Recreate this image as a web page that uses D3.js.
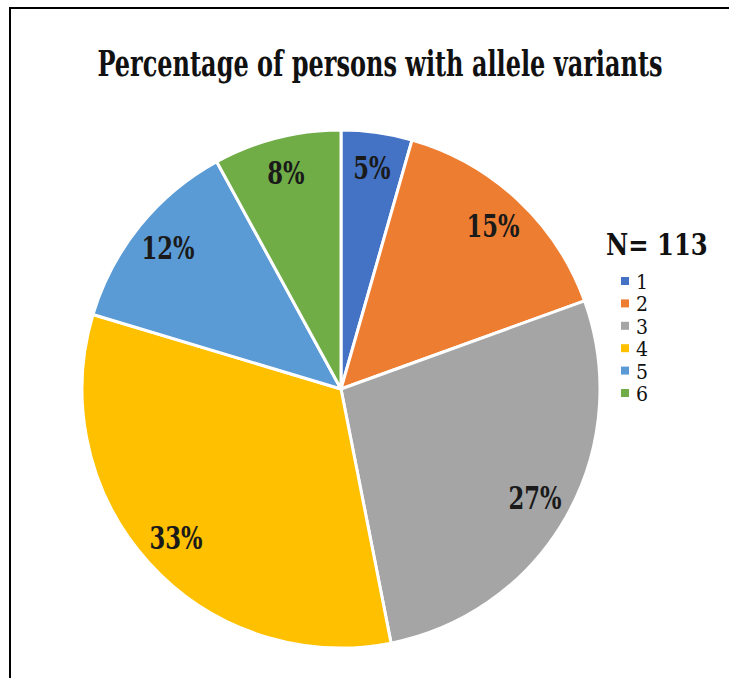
<!DOCTYPE html>
<html>
<head>
<meta charset="utf-8">
<script src="https://cdn.jsdelivr.net/npm/d3@7"></script>
<style>
  html, body { margin: 0; padding: 0; background: #fff; }
  svg { display: block; }
  svg text { font-family: 'DejaVu Serif Condensed', 'DejaVu Serif', serif; }
</style>
</head>
<body>
<div id="chart"></div>
<script>
'use strict';

// ── Data ───────────────────────────────────────────────────────────────────
const alleles  = ['1', '2', '3', '4', '5', '6'];
const persons  = [5, 17, 31, 37, 14, 9];          // counts, N = 113
const pctText  = ['5%', '15%', '27%', '33%', '12%', '8%'];
const colors   = ['#4472c4', '#ed7d31', '#a5a5a5', '#ffc000', '#5b9bd5', '#70ad47'];
const title    = 'Percentage of persons with allele variants';
const nLabel   = 'N= 113';

const W = 729, H = 678;
const cx = 341, cy = 389, R = 259;

const svg = d3.select('#chart').append('svg')
  .attr('width', W).attr('height', H);

// frame
svg.append('rect')
  .attr('x', 10).attr('y', 8)
  .attr('width', W + 20).attr('height', H + 20)
  .attr('fill', 'none').attr('stroke', '#000').attr('stroke-width', 2);

// title (the reference font is tall and narrow)
svg.append('text')
  .attr('transform', 'translate(380,76) scale(0.92,1.2)')
  .attr('text-anchor', 'middle')
  .attr('font-weight', 'bold')
  .attr('font-size', '29px')
  .attr('fill', '#111')
  .text(title);

// ── Pie ────────────────────────────────────────────────────────────────────
const rows = alleles.map((a, i) => ({ allele: a, value: persons[i], label: pctText[i], color: colors[i] }));

const pie = d3.pie().value(d => d.value).sort(null);
const arc = d3.arc().innerRadius(0).outerRadius(R);
const labelArc = d3.arc().innerRadius(R * 0.86).outerRadius(R * 0.86);

const g = svg.append('g').attr('transform', `translate(${cx},${cy})`);

g.selectAll('path')
  .data(pie(rows))
  .join('path')
  .attr('d', arc)
  .attr('fill', d => d.data.color)
  .attr('stroke', '#fff')
  .attr('stroke-width', 3)
  .attr('stroke-linejoin', 'round');

g.selectAll('.pct')
  .data(pie(rows))
  .join('text')
  .attr('class', 'pct')
  .attr('transform', d => `translate(${labelArc.centroid(d)}) scale(0.9,1.1)`)
  .attr('text-anchor', 'middle')
  .attr('dominant-baseline', 'central')
  .attr('font-weight', 'bold')
  .attr('font-size', '28px')
  .attr('fill', '#1a1a1a')
  .text(d => d.data.label);

// ── Legend ─────────────────────────────────────────────────────────────────
svg.append('text')
  .attr('transform', 'translate(606,255) scale(1,1.1)')
  .attr('font-weight', 'bold')
  .attr('font-size', '27px')
  .attr('fill', '#111')
  .text(nLabel);

const ly = d3.scalePoint().domain(alleles).range([281, 393]);

const leg = svg.append('g').selectAll('g')
  .data(rows)
  .join('g')
  .attr('transform', d => `translate(621,${ly(d.allele)})`);

leg.append('rect')
  .attr('x', 0).attr('y', -4).attr('width', 8).attr('height', 8)
  .attr('fill', d => d.color);

leg.append('text')
  .attr('x', 15).attr('y', 1)
  .attr('dominant-baseline', 'central')
  .attr('font-size', '21px')
  .attr('fill', '#111')
  .text(d => d.allele);
</script>
</body>
</html>
